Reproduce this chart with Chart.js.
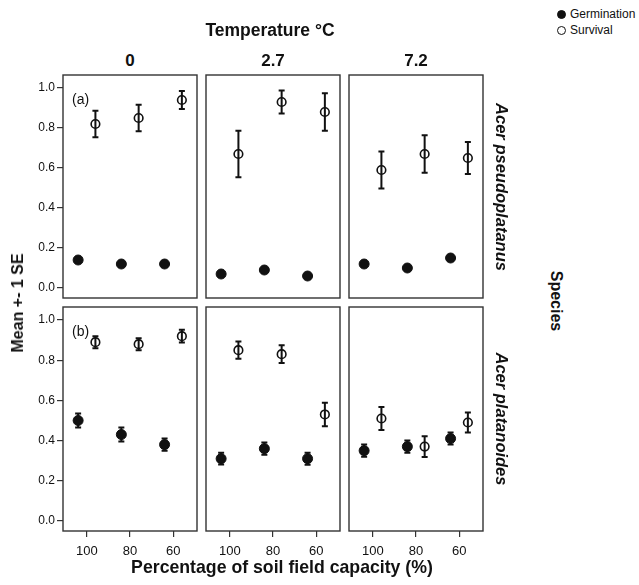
<!DOCTYPE html>
<html>
<head>
<meta charset="utf-8">
<script src="https://cdn.jsdelivr.net/npm/chart.js@4.4.1/dist/chart.umd.min.js"></script>
<style>
  body { margin:0; width:639px; height:585px; background:#fff; position:relative; overflow:hidden;
         font-family:"Liberation Sans", Arial, sans-serif; color:#111; }
  canvas { position:absolute; }
  .lbl { position:absolute; white-space:nowrap; transform:translate(-50%,-50%); line-height:1; }
  .key { position:absolute; width:9px; height:9px; border-radius:50%; box-sizing:border-box; border:1.6px solid #111; }
  .keytxt { position:absolute; font-size:12px; line-height:1; white-space:nowrap; }
</style>
</head>
<body>
<div id="stage"></div>
<script>
// ----- data -----
const moistureLabels = ['100', '80', '60'];          // % of soil field capacity
const temperatureLabels = ['0', '2.7', '7.2'];       // °C
const speciesLabels = ['Acer pseudoplatanus', 'Acer platanoides'];
const panelTags = ['(a)', '(b)'];
const yTickValues = [0, 0.2, 0.4, 0.6, 0.8, 1.0];

// Acer pseudoplatanus: one list per temperature (0, 2.7, 7.2 °C), ordered 100, 80, 60 %
const pseudoGermination   = [[0.14, 0.12, 0.12], [0.07, 0.09, 0.06], [0.12, 0.10, 0.15]];
const pseudoGerminationSE = [[0.015, 0.012, 0.014], [0.008, 0.010, 0.008], [0.012, 0.010, 0.015]];
const pseudoSurvival      = [[0.82, 0.85, 0.94], [0.67, 0.93, 0.88], [0.59, 0.67, 0.65]];
const pseudoSurvivalSE    = [[0.066, 0.066, 0.045], [0.116, 0.057, 0.094], [0.092, 0.094, 0.080]];

// Acer platanoides
const platGermination   = [[0.50, 0.43, 0.38], [0.31, 0.36, 0.31], [0.35, 0.37, 0.41]];
const platGerminationSE = [[0.035, 0.035, 0.030], [0.029, 0.030, 0.030], [0.030, 0.030, 0.030]];
const platSurvival      = [[0.89, 0.88, 0.92], [0.85, 0.83, 0.53], [0.51, 0.37, 0.49]];
const platSurvivalSE    = [[0.030, 0.030, 0.032], [0.043, 0.044, 0.058], [0.057, 0.052, 0.050]];

// ----- layout -----
const FONT = '"Liberation Sans", Arial, sans-serif';
const colLeft = [63, 206, 349];
const panelW = 134;
const rowTop = [75, 307];
const rowH = [223, 224];
const AXIS_W = 40, AXIS_H = 40, PAD = 2;
const DODGE = 0.2;

const germination = [pseudoGermination, platGermination];
const germinationSE = [pseudoGerminationSE, platGerminationSE];
const survival = [pseudoSurvival, platSurvival];
const survivalSE = [pseudoSurvivalSE, platSurvivalSE];

// vertical SE whiskers with caps, drawn under the markers
const errorBars = {
  id: 'errorBars',
  beforeDatasetsDraw(chart) {
    const { ctx, scales: { x, y } } = chart;
    ctx.save();
    ctx.strokeStyle = '#111';
    ctx.lineWidth = 2;
    chart.data.datasets.forEach(ds => {
      ds.data.forEach((p, i) => {
        const se = ds.se[i];
        const px = x.getPixelForValue(p.x);
        const top = y.getPixelForValue(p.y + se);
        const bot = y.getPixelForValue(p.y - se);
        ctx.beginPath();
        ctx.moveTo(px, top); ctx.lineTo(px, bot);
        ctx.moveTo(px - 3, top); ctx.lineTo(px + 3, top);
        ctx.moveTo(px - 3, bot); ctx.lineTo(px + 3, bot);
        ctx.stroke();
      });
    });
    ctx.restore();
  }
};

// panel frame
const frame = {
  id: 'frame',
  afterDraw(chart) {
    const { ctx, chartArea: a } = chart;
    ctx.save();
    ctx.strokeStyle = '#333';
    ctx.lineWidth = 1.4;
    ctx.strokeRect(a.left, a.top, a.right - a.left, a.bottom - a.top);
    ctx.restore();
  }
};

const stage = document.getElementById('stage');

function addText(txt, x, y, css) {
  const d = document.createElement('div');
  d.className = 'lbl';
  d.textContent = txt;
  d.style.left = x + 'px';
  d.style.top = y + 'px';
  Object.assign(d.style, css || {});
  stage.appendChild(d);
  return d;
}

for (let r = 0; r < 2; r++) {
  for (let c = 0; c < 3; c++) {
    const cv = document.createElement('canvas');
    const w = panelW + AXIS_W + PAD;
    const h = rowH[r] + PAD + AXIS_H;
    cv.width = w; cv.height = h;
    cv.style.left = (colLeft[c] - AXIS_W) + 'px';
    cv.style.top = (rowTop[r] - PAD) + 'px';
    cv.style.width = w + 'px'; cv.style.height = h + 'px';
    stage.appendChild(cv);

    const g = germination[r][c], gse = germinationSE[r][c];
    const s = survival[r][c], sse = survivalSE[r][c];

    new Chart(cv, {
      type: 'scatter',
      data: {
        datasets: [
          {
            label: 'Germination',
            data: g.map((v, i) => ({ x: i - DODGE, y: v })),
            se: gse,
            pointRadius: 5,
            pointBackgroundColor: '#111',
            pointBorderColor: '#111',
            pointBorderWidth: 1
          },
          {
            label: 'Survival',
            data: s.map((v, i) => ({ x: i + DODGE, y: v })),
            se: sse,
            pointRadius: 4.3,
            pointBackgroundColor: 'rgba(0,0,0,0)',
            pointBorderColor: '#111',
            pointBorderWidth: 1.6
          }
        ]
      },
      options: {
        animation: false,
        responsive: false,
        events: [],
        layout: { autoPadding: false, padding: { top: PAD, right: PAD, left: 0, bottom: 0 } },
        plugins: { legend: { display: false }, tooltip: { enabled: false } },
        scales: {
          x: {
            type: 'linear',
            min: -0.55, max: 2.55,
            afterBuildTicks: sc => { sc.ticks = moistureLabels.map((_, i) => ({ value: i })); },
            afterFit: sc => { sc.height = AXIS_H; sc.paddingLeft = 0; sc.paddingRight = 0; },
            border: { display: false },
            grid: { display: r === 1, drawOnChartArea: false, drawTicks: true, tickLength: 6, color: '#333', lineWidth: 1.2 },
            ticks: {
              display: r === 1,
              callback: v => moistureLabels[v],
              color: '#111',
              font: { family: FONT, size: 13 },
              padding: 7,
              maxRotation: 0,
              autoSkip: false
            }
          },
          y: {
            min: -0.05, max: 1.065,
            afterBuildTicks: sc => { sc.ticks = yTickValues.map(v => ({ value: v })); },
            afterFit: sc => { sc.width = AXIS_W; sc.paddingTop = 0; sc.paddingBottom = 0; },
            border: { display: false },
            grid: { display: c === 0, drawOnChartArea: false, drawTicks: true, tickLength: 6, color: '#333', lineWidth: 1.2 },
            ticks: {
              display: c === 0,
              callback: v => v.toFixed(1),
              color: '#111',
              font: { family: FONT, size: 12 },
              padding: 2
            }
          }
        }
      },
      plugins: [errorBars, frame]
    });
  }
}

// titles and strip labels
addText('Temperature °C', 270, 31, { fontWeight: 'bold', fontSize: '17.5px' });
temperatureLabels.forEach((t, c) => addText(t, colLeft[c] + panelW / 2, 60, { fontWeight: 'bold', fontSize: '17px' }));
speciesLabels.forEach((s, r) => addText(s, 502, rowTop[r] + rowH[r] / 2, {
  fontWeight: 'bold', fontStyle: 'italic', fontSize: '16.5px',
  transform: 'translate(-50%,-50%) rotate(90deg)'
}));
addText('Species', 556, 301, { fontWeight: 'bold', fontSize: '16px', transform: 'translate(-50%,-50%) rotate(90deg)' });
addText('Mean +- 1 SE', 18, 303, { fontWeight: 'bold', fontSize: '16px', transform: 'translate(-50%,-50%) rotate(-90deg)' });
addText('Percentage of soil field capacity (%)', 282, 568, { fontWeight: 'bold', fontSize: '17.7px' });
panelTags.forEach((t, r) => {
  addText(t, colLeft[0] + 9, rowTop[r] + 24, { fontSize: '14px', transform: 'translate(0,-50%)' });
});

// legend
const legendItems = [
  { name: 'Germination', filled: true, y: 14 },
  { name: 'Survival', filled: false, y: 30 }
];
legendItems.forEach(it => {
  const k = document.createElement('div');
  k.className = 'key';
  k.style.left = '557px';
  k.style.top = (it.y - 4.5) + 'px';
  k.style.background = it.filled ? '#111' : '#fff';
  stage.appendChild(k);
  const t = document.createElement('div');
  t.className = 'keytxt';
  t.textContent = it.name;
  t.style.left = '570px';
  t.style.top = (it.y - 6.5) + 'px';
  stage.appendChild(t);
});
</script>
</body>
</html>
